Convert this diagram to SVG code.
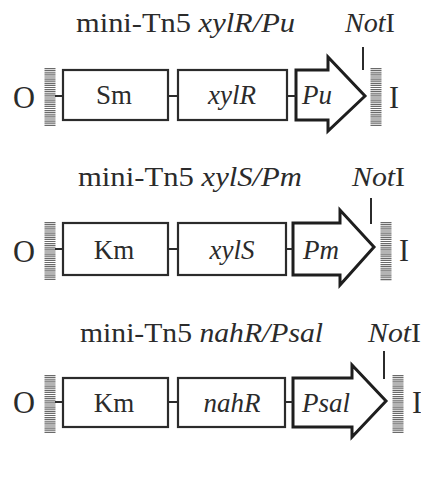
<svg xmlns="http://www.w3.org/2000/svg" width="421" height="482" viewBox="0 0 421 482">
<style>
text{font-family:"Liberation Serif","Times New Roman",serif;fill:#2b2b2b}
.t{font-size:27px}
.l{font-size:27px}
.e{font-size:31px}
.i{font-style:italic}
.box{fill:#fff;stroke:#2b2b2b;stroke-width:2.2}
.arr{fill:#fff;stroke:#1e1e1e;stroke-width:3;stroke-linejoin:miter}
.con{stroke:#2b2b2b;stroke-width:2;fill:none}
.hatch{stroke:#6a6a6a;stroke-width:11;stroke-dasharray:1.2 0.9;fill:none}
.tick{stroke:#2b2b2b;stroke-width:2;fill:none}
</style>
<rect width="421" height="482" fill="#fff"/>
<g id="construct1">
<text class="t" x="76" y="32" textLength="219" lengthAdjust="spacingAndGlyphs">mini-Tn5 <tspan class="i">xylR/Pu</tspan></text>
<text class="t" x="345" y="32" textLength="50" lengthAdjust="spacingAndGlyphs"><tspan class="i">Not</tspan>I</text>
<text class="e" x="13" y="108" textLength="22" lengthAdjust="spacingAndGlyphs">O</text>
<line class="hatch" x1="50" y1="68" x2="50" y2="126"/>
<g id="n1-sm"><rect class="box" x="63" y="70" width="105" height="50"/><text class="l" x="114" y="104" text-anchor="middle">Sm</text></g>
<g id="n1-xylR"><rect class="box" x="178" y="70" width="109" height="50"/><text class="l i" x="232" y="104" text-anchor="middle">xylR</text></g>
<g id="n1-Pu"><polygon class="arr" points="296,70 328,70 328,57 365,96 328,131 328,120 296,120"/><text class="l i" x="302" y="104">Pu</text></g>
<line class="tick" x1="363" y1="47" x2="363" y2="70"/>
<line class="hatch" x1="376" y1="68" x2="376" y2="126"/>
<text class="e" x="389" y="108" textLength="10" lengthAdjust="spacingAndGlyphs">I</text>
</g>
<g id="construct2">
<text class="t" x="78" y="186" textLength="224" lengthAdjust="spacingAndGlyphs">mini-Tn5 <tspan class="i">xylS/Pm</tspan></text>
<text class="t" x="352" y="186" textLength="53" lengthAdjust="spacingAndGlyphs"><tspan class="i">Not</tspan>I</text>
<text class="e" x="13" y="262" textLength="22" lengthAdjust="spacingAndGlyphs">O</text>
<line class="hatch" x1="50" y1="222" x2="50" y2="280"/>
<g id="n2-km"><rect class="box" x="63" y="223" width="105" height="52"/><text class="l" x="114" y="259" text-anchor="middle">Km</text></g>
<g id="n2-xylS"><rect class="box" x="178" y="223" width="108" height="52"/><text class="l i" x="232" y="259" text-anchor="middle">xylS</text></g>
<g id="n2-Pm"><polygon class="arr" points="293,223 340,223 340,210 374,247 340,285 340,275 293,275"/><text class="l i" x="303" y="259">Pm</text></g>
<line class="tick" x1="371" y1="198" x2="371" y2="224"/>
<line class="hatch" x1="386" y1="222" x2="386" y2="281"/>
<text class="e" x="399" y="261" textLength="10" lengthAdjust="spacingAndGlyphs">I</text>
</g>
<g id="construct3">
<text class="t" x="80" y="342" textLength="243" lengthAdjust="spacingAndGlyphs">mini-Tn5 <tspan class="i">nahR/Psal</tspan></text>
<text class="t" x="368" y="342" textLength="53" lengthAdjust="spacingAndGlyphs"><tspan class="i">Not</tspan>I</text>
<text class="e" x="13" y="413" textLength="22" lengthAdjust="spacingAndGlyphs">O</text>
<line class="hatch" x1="50" y1="375" x2="50" y2="433"/>
<g id="n3-km"><rect class="box" x="63" y="378" width="105" height="49"/><text class="l" x="114" y="412" text-anchor="middle">Km</text></g>
<g id="n3-nahR"><rect class="box" x="178" y="378" width="107" height="49"/><text class="l i" x="232" y="412" text-anchor="middle">nahR</text></g>
<g id="n3-Psal"><polygon class="arr" points="293,378 352,378 352,365 386,401 352,437 352,427 293,427"/><text class="l i" x="302" y="412">Psal</text></g>
<line class="tick" x1="384" y1="351" x2="384" y2="379"/>
<line class="hatch" x1="398" y1="375" x2="398" y2="433"/>
<text class="e" x="412" y="413" textLength="10" lengthAdjust="spacingAndGlyphs">I</text>
</g>
<g id="connectors">
<line class="con" x1="55" y1="96" x2="63" y2="96"/>
<line class="con" x1="168" y1="96" x2="178" y2="96"/>
<line class="con" x1="287" y1="96" x2="296" y2="96"/>
<line class="con" x1="55" y1="249" x2="63" y2="249"/>
<line class="con" x1="168" y1="249" x2="178" y2="249"/>
<line class="con" x1="286" y1="249" x2="293" y2="249"/>
<line class="con" x1="55" y1="402" x2="63" y2="402"/>
<line class="con" x1="168" y1="402" x2="178" y2="402"/>
<line class="con" x1="285" y1="402" x2="293" y2="402"/>
</g>
</svg>
